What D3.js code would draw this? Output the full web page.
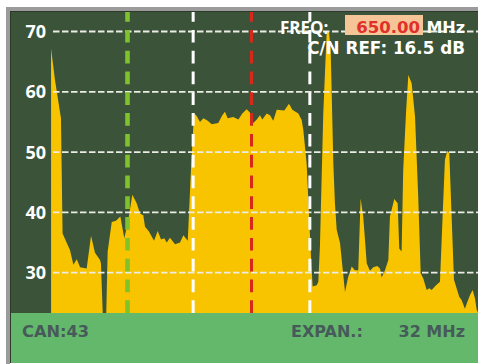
<!DOCTYPE html>
<html>
<head>
<meta charset="utf-8">
<script src="https://cdn.jsdelivr.net/npm/d3@7"></script>
<style>
  html, body { margin: 0; padding: 0; background: #ffffff; }
  svg { display: block; }
</style>
</head>
<body>
<svg id="chart" width="478" height="364"></svg>
<script>
// Spectrum trace: frequency (MHz) and level (dBµV)
const freqMHz = [
  636.26, 636.53, 636.94, 637.05, 637.56, 637.79, 638.02, 638.25, 638.70, 639.00,
  639.27, 639.62, 639.68, 639.82, 640.03, 640.14, 640.42, 640.71, 641.01, 641.28,
  641.54, 641.83, 642.13, 642.36, 642.58, 642.70, 642.97, 643.32, 643.57, 643.80,
  644.02, 644.19, 644.41, 644.76, 645.10, 645.33, 645.63, 645.85, 646.01, 646.08,
  646.24, 646.47, 646.70, 647.00, 647.27, 647.72, 648.00, 648.18, 648.37, 648.75,
  649.10, 649.37, 649.67, 649.90, 650.12, 650.36, 650.58, 650.74, 651.04, 651.27,
  651.49, 651.73, 652.25, 652.57, 652.80, 653.21, 653.44, 653.55, 653.78, 653.94,
  654.08, 654.19, 654.47, 654.58, 654.69, 654.92, 655.15, 655.31, 655.43, 655.61,
  655.72, 655.84, 656.07, 656.41, 656.63, 656.87, 657.09, 657.32, 657.48, 657.66,
  657.90, 658.12, 658.35, 658.62, 658.81, 658.92, 659.15, 659.38, 659.49, 659.79,
  660.02, 660.13, 660.29, 660.40, 660.59, 660.75, 660.98, 661.21, 661.43, 661.60,
  661.78, 662.01, 662.19, 662.35, 662.65, 662.92, 663.10, 663.26, 663.42, 663.56,
  663.72, 663.88, 664.06, 664.24, 664.41, 664.63, 664.79, 664.98, 665.16, 665.32,
  665.44, 665.60
];
const levelDb = [
  67.2, 61.9, 55.6, 36.5, 33.7, 31.3, 32.2, 30.9, 30.7, 36.1,
  33.3, 32.1, 31.5, 22.0, 22.0, 33.5, 38.4, 38.6, 39.3, 35.7,
  38.5, 42.9, 41.5, 39.8, 39.5, 37.6, 36.8, 35.3, 36.9, 35.5,
  35.7, 35.0, 35.8, 34.7, 35.0, 36.2, 35.3, 47.0, 54.2, 56.4,
  56.0, 55.0, 55.6, 55.2, 54.6, 54.8, 56.1, 56.7, 55.6, 55.8,
  55.4, 56.4, 57.1, 56.5, 54.8, 55.4, 56.1, 55.4, 56.4, 56.1,
  55.2, 57.0, 56.9, 58.0, 57.0, 56.4, 55.3, 53.7, 48.1, 39.8,
  32.6, 27.7, 27.9, 28.5, 34.3, 56.4, 69.7, 70.0, 66.9, 48.1,
  41.5, 37.1, 34.9, 26.8, 29.3, 31.0, 30.4, 30.4, 42.3, 39.3,
  31.5, 30.3, 30.9, 31.1, 30.7, 29.2, 30.4, 32.1, 39.3, 42.2,
  41.5, 34.0, 33.5, 47.0, 56.4, 62.8, 61.4, 55.9, 42.6, 29.9,
  29.0, 27.1, 27.4, 27.1, 27.9, 28.5, 39.3, 48.7, 50.2, 49.8,
  39.3, 28.8, 27.4, 26.0, 25.4, 24.0, 25.1, 26.3, 27.1, 25.7,
  23.8, 23.0
];

// Level axis ticks
const levelTicks = [30, 40, 50, 60, 70];

// Frequency markers
const channelEdges = [646, 654];
const centerFreq = [650];
const markerFreq = [641.5];

// Readouts
const freqLabel = "FREQ:";
const freqValue = "650.00";
const freqUnit = "MHz";
const cnRefText = "C/N REF: 16.5 dB";
const channelText = "CAN:43";
const spanLabel = "EXPAN.:";
const spanValue = "32 MHz";

const svg = d3.select("#chart");

const panel = { left: 11, top: 12, right: 478, bottom: 313 };
const footer = { top: 313, bottom: 363 };

const x = d3.scaleLinear().domain([634, 666]).range([18.1, 484.9]);
const y = d3.scaleLinear().domain([30, 70]).range([272.6, 31.5]);

// Frame
svg.append("rect").attr("x", 6).attr("y", 7).attr("width", 472).attr("height", 357).attr("fill", "#9b9b9b");
svg.append("rect").attr("x", 10).attr("y", 11).attr("width", 468).attr("height", 353).attr("fill", "#2c3a2b");
svg.append("rect")
  .attr("x", panel.left).attr("y", panel.top)
  .attr("width", panel.right - panel.left).attr("height", panel.bottom - panel.top)
  .attr("fill", "#3b5339");

svg.append("defs").append("clipPath").attr("id", "plotClip")
  .append("rect")
  .attr("x", panel.left).attr("y", panel.top)
  .attr("width", panel.right - panel.left).attr("height", panel.bottom - panel.top);

const plot = svg.append("g").attr("clip-path", "url(#plotClip)");

// Spectrum area
const data = freqMHz.map((f, i) => ({ f, v: levelDb[i] }));
const area = d3.area()
  .x(d => x(d.f))
  .y0(panel.bottom)
  .y1(d => y(d.v));
plot.append("path").datum(data).attr("d", area).attr("fill", "#f8c400");

// Horizontal grid
plot.selectAll("line.hgrid").data(levelTicks).join("line")
  .attr("class", "hgrid")
  .attr("x1", 53).attr("x2", panel.right)
  .attr("y1", d => y(d)).attr("y2", d => y(d))
  .attr("stroke", "#ecece6").attr("stroke-width", 1.8)
  .attr("stroke-dasharray", "6.5,2.5");

// Vertical markers
function vMarker(freqs, color, width) {
  plot.selectAll(null).data(freqs).join("line")
    .attr("x1", d => x(d)).attr("x2", d => x(d))
    .attr("y1", panel.top).attr("y2", panel.bottom)
    .attr("stroke", color).attr("stroke-width", width)
    .attr("stroke-dasharray", "12.7,8.1")
    .attr("stroke-dashoffset", 2.9);
}
vMarker(markerFreq, "#7fc22b", 4.6);
vMarker(channelEdges, "#ffffff", 3);
vMarker(centerFreq, "#d8281c", 3);

// Level labels
svg.selectAll("text.ytick").data(levelTicks).join("text")
  .attr("class", "ytick")
  .attr("x", 46).attr("y", d => y(d))
  .attr("dy", "0.36em")
  .attr("text-anchor", "end")
  .attr("font-family", "'Open Sans', sans-serif")
  .attr("font-weight", 700)
  .attr("font-size", 18)
  .attr("fill", "#ffffff")
  .text(d => d);

// Frequency readout
const labelFont = "'Open Sans', sans-serif";
const readFont = "'DejaVu Sans', sans-serif";
svg.append("rect").attr("x", 345).attr("y", 15).attr("width", 78).attr("height", 20).attr("fill", "#f5c497");
svg.append("text").attr("x", 280).attr("y", 33.5)
  .attr("font-family", labelFont).attr("font-weight", 700).attr("font-size", 17)
  .attr("fill", "#ffffff").text(freqLabel);
svg.append("text").attr("x", 420).attr("y", 33.3).attr("text-anchor", "end")
  .attr("font-family", readFont).attr("font-weight", 700).attr("font-size", 16.5)
  .attr("fill", "#e0302a").text(freqValue);
svg.append("text").attr("x", 465).attr("y", 33.3).attr("text-anchor", "end")
  .attr("font-family", readFont).attr("font-weight", 700).attr("font-size", 16)
  .attr("fill", "#ffffff").text(freqUnit);
svg.append("text").attr("x", 465).attr("y", 54.3).attr("text-anchor", "end")
  .attr("font-family", readFont).attr("font-weight", 700).attr("font-size", 16.8)
  .attr("fill", "#ffffff").text(cnRefText);

// Footer bar
svg.append("rect").attr("x", panel.left).attr("y", footer.top)
  .attr("width", panel.right - panel.left).attr("height", footer.bottom - footer.top)
  .attr("fill", "#63b86b");
svg.append("rect").attr("x", 0).attr("y", footer.bottom).attr("width", 478).attr("height", 364 - footer.bottom).attr("fill", "#ffffff");
svg.append("rect").attr("x", 6).attr("y", footer.bottom).attr("width", 4).attr("height", 364 - footer.bottom).attr("fill", "#9b9b9b");

const footFont = "'DejaVu Sans', sans-serif";
svg.append("text").attr("x", 22).attr("y", 337.3)
  .attr("font-family", footFont).attr("font-weight", 700).attr("font-size", 16.2)
  .attr("fill", "#475a5a").text(channelText);
svg.append("text").attr("x", 291).attr("y", 337.3)
  .attr("font-family", footFont).attr("font-weight", 700).attr("font-size", 16)
  .attr("fill", "#475a5a").text(spanLabel);
svg.append("text").attr("x", 465).attr("y", 337.3).attr("text-anchor", "end")
  .attr("font-family", footFont).attr("font-weight", 700).attr("font-size", 16)
  .attr("fill", "#475a5a").text(spanValue);
</script>
</body>
</html>
